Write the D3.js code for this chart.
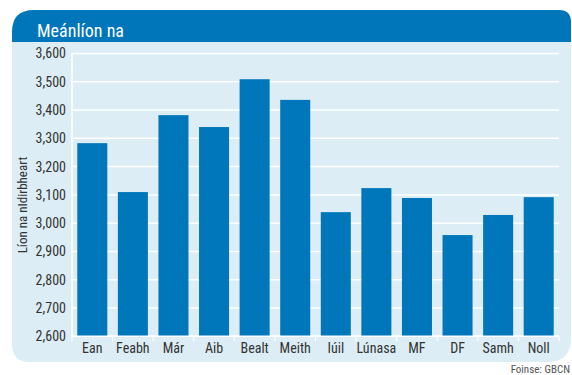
<!DOCTYPE html>
<html>
<head>
<meta charset="utf-8">
<script src="https://cdn.jsdelivr.net/npm/d3@7"></script>
<style>
  html, body { margin: 0; padding: 0; background: #ffffff; }
  svg { display: block; }
  text { font-family: "Liberation Sans Narrow", "Roboto Condensed", "Liberation Sans", sans-serif; }
</style>
</head>
<body>
<svg id="chart" width="572" height="375"></svg>
<script>
// Monthly average number of transactions
const months = ["Ean", "Feabh", "Már", "Aib", "Bealt", "Meith", "Iúil", "Lúnasa", "MF", "DF", "Samh", "Noll"];
const values = [3283, 3110, 3382, 3340, 3509, 3436, 3039, 3124, 3089, 2958, 3029, 3092];
const yTicks = [2600, 2700, 2800, 2900, 3000, 3100, 3200, 3300, 3400, 3500, 3600];

const titleText = "Meánlíon na";
const yAxisTitle = "Líon na nIdirbheart";
const sourceText = "Foinse: GBCN";

const svg = d3.select("#chart");

const headerBlue = "#0076ba";
const panelBlue = "#dcedf5";
const barBlue = "#0077bb";

// Panel: rounded header band with light body below
const px0 = 12, px1 = 571, py0 = 10, pyHead = 42, py1 = 362;
const rTL = 22, rTR = 12, rBL = 18, rBR = 24;

svg.append("path")
  .attr("d", `M${px0},${pyHead} L${px1},${pyHead} L${px1},${py1 - rBR} Q${px1},${py1} ${px1 - rBR},${py1} L${px0 + rBL},${py1} Q${px0},${py1} ${px0},${py1 - rBL} Z`)
  .attr("fill", panelBlue);

svg.append("path")
  .attr("d", `M${px0},${pyHead} L${px0},${py0 + rTL} Q${px0},${py0} ${px0 + rTL},${py0} L${px1 - rTR},${py0} Q${px1},${py0} ${px1},${py0 + rTR} L${px1},${pyHead} Z`)
  .attr("fill", headerBlue);

svg.append("text")
  .attr("x", 37).attr("y", 37)
  .attr("fill", "#ffffff")
  .attr("font-size", 18)
  .text(titleText);

// Plot area
const margin = { left: 72, right: 559, top: 53.5, bottom: 336.3 };

const x = d3.scaleBand()
  .domain(months)
  .range([margin.left, margin.right])
  .paddingInner(0.26)
  .paddingOuter(0.13);

const y = d3.scaleLinear()
  .domain([2600, 3600])
  .range([margin.bottom, margin.top]);

// Horizontal gridlines
svg.append("g")
  .selectAll("line")
  .data(yTicks)
  .join("line")
  .attr("x1", margin.left)
  .attr("x2", margin.right)
  .attr("y1", d => y(d))
  .attr("y2", d => y(d))
  .attr("stroke", "#ffffff")
  .attr("stroke-width", 1.5);

// Left axis line
svg.append("line")
  .attr("x1", margin.left).attr("x2", margin.left)
  .attr("y1", margin.top).attr("y2", margin.bottom)
  .attr("stroke", "#ffffff").attr("stroke-width", 1.5);

// Y axis labels
const yAxis = d3.axisLeft(y)
  .tickValues(yTicks)
  .tickFormat(d3.format(","))
  .tickSize(0)
  .tickPadding(6);

const gy = svg.append("g")
  .attr("transform", `translate(${margin.left},0)`)
  .call(yAxis);
gy.select(".domain").remove();
gy.selectAll("text")
  .attr("fill", "#333333")
  .attr("font-size", 14)
  .attr("font-family", "'Liberation Sans Narrow', 'Liberation Sans', sans-serif");

// Bars
svg.append("g")
  .selectAll("rect")
  .data(values)
  .join("rect")
  .attr("x", (d, i) => x(months[i]))
  .attr("width", x.bandwidth())
  .attr("y", d => y(d))
  .attr("height", d => y(2600) - y(d))
  .attr("fill", barBlue);

// Bottom axis with ticks between categories
const boundaries = d3.range(months.length + 1).map(i => margin.left + i * (margin.right - margin.left) / months.length);
svg.append("line")
  .attr("x1", margin.left).attr("x2", margin.right)
  .attr("y1", margin.bottom).attr("y2", margin.bottom)
  .attr("stroke", "#ffffff").attr("stroke-width", 1.5);
svg.append("g")
  .selectAll("line")
  .data(boundaries)
  .join("line")
  .attr("x1", d => d).attr("x2", d => d)
  .attr("y1", margin.bottom).attr("y2", margin.bottom + 5)
  .attr("stroke", "#ffffff").attr("stroke-width", 1.2);

svg.append("g")
  .selectAll("text")
  .data(months)
  .join("text")
  .attr("x", d => x(d) + x.bandwidth() / 2)
  .attr("y", 353)
  .attr("text-anchor", "middle")
  .attr("fill", "#333333")
  .attr("font-size", 14)
  .text(d => d);

// Y axis title
svg.append("text")
  .attr("transform", `translate(27,205) rotate(-90)`)
  .attr("text-anchor", "middle")
  .attr("fill", "#333333")
  .attr("font-size", 13)
  .text(yAxisTitle);

// Source note
svg.append("text")
  .attr("x", 570)
  .attr("y", 373)
  .attr("text-anchor", "end")
  .attr("fill", "#555555")
  .attr("font-size", 11)
  .text(sourceText);
</script>
</body>
</html>
